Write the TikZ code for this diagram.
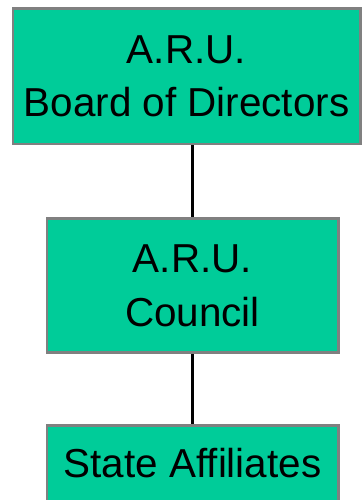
\documentclass[tikz,border=0pt]{standalone}
\usepackage{fontspec}
\setmainfont{Liberation Sans}
\usetikzlibrary{positioning}
\definecolor{orgfill}{RGB}{0,204,153}
\definecolor{orgline}{RGB}{128,128,128}

\begin{document}
\begin{tikzpicture}[
  orgbox/.style={rectangle, draw=orgline, fill=orgfill, line width=0.85pt,
                 inner sep=0pt, align=center, font=\fontsize{11.5}{15.2}\selectfont},
  link/.style={line width=0.75pt, black}
]
  \useasboundingbox (0,0) rectangle (3.62,-5.00);

  % Board at the top
  \node[orgbox, minimum width=3.47cm, minimum height=1.35cm] (board) at (1.865,-0.765)
    {A.R.U.\\Board of Directors};

  % Council in the middle
  \node[orgbox, minimum width=2.91cm, minimum height=1.34cm,
        below=0.72cm of board, xshift=0.06cm] (council) {A.R.U.\\Council};

  % State affiliates, cut off at the page bottom
  \node[orgbox, minimum width=2.91cm, minimum height=0.9cm, text depth=0.17cm,
        below=0.70cm of council] (state) {State Affiliates};

  % Links
  \draw[link] (council.north |- board.south) -- (council.north);
  \draw[link] (council.south) -- (state.north);

\end{tikzpicture}
\end{document}
